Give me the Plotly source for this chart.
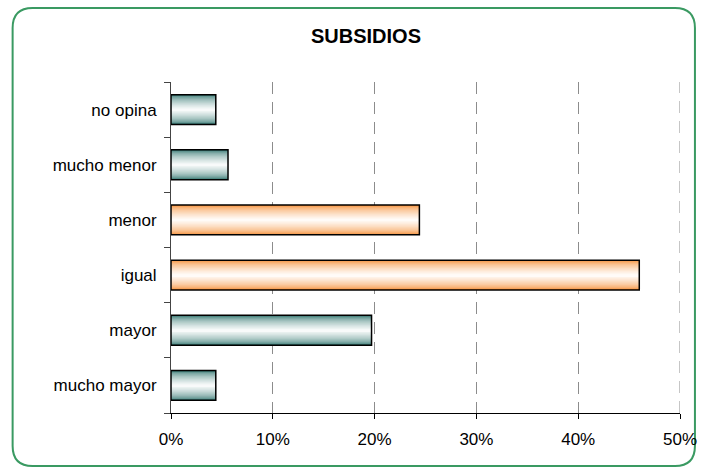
import plotly.graph_objects as go

categories = ["mucho mayor", "mayor", "igual", "menor", "mucho menor", "no opina"]
values = [4.4, 19.7, 46.0, 24.4, 5.6, 4.4]
groups = ["teal", "teal", "orange", "orange", "teal", "teal"]
x_ticks = [0, 10, 20, 30, 40, 50]
x_tick_labels = ["0%", "10%", "20%", "30%", "40%", "50%"]
title_text = "SUBSIDIOS"

edge_colors = {"teal": (45, 115, 108), "orange": (245, 138, 45)}

W, H = 709, 472
L, R, T, B = 171, 27, 82, 59
pw, ph = W - L - R, H - T - B

def lerp(c, t):
    return "rgb(%d,%d,%d)" % tuple(round(a + (255 - a) * t) for a in c)

fig = go.Figure()
bar_w = 0.54
N = 16
for i in range(N):
    t = i / N
    frac = 1 - t
    cols = [lerp(edge_colors[g], min(1, (t ** 0.55))) for g in groups]
    fig.add_trace(go.Bar(
        y=categories, x=values, orientation="h",
        width=bar_w * frac, marker=dict(color=cols, line=dict(width=0)),
        hoverinfo="skip", showlegend=False,
    ))
fig.add_trace(go.Bar(
    y=categories, x=values, orientation="h", width=bar_w,
    marker=dict(color="rgba(0,0,0,0)", line=dict(color="black", width=1.5)),
    showlegend=False,
))

def P(x, y):
    a, b = (x - L) / pw, (H - B - y) / ph
    return f"{a:.5f},{b:.5f}"

x0, y0, x1, y1, r = 12, 8, 697, 466, 20
path = f"M {P(x0 + r, y0)} L {P(x1 - r, y0)} "
path += f"Q {P(x1, y0)} {P(x1, y0 + r)} L {P(x1, y1 - r)} "
path += f"Q {P(x1, y1)} {P(x1 - r, y1)} L {P(x0 + r, y1)} "
path += f"Q {P(x0, y1)} {P(x0, y1 - r)} L {P(x0, y0 + r)} "
path += f"Q {P(x0, y0)} {P(x0 + r, y0)} Z"
fig.add_shape(type="path", xref="paper", yref="paper", path=path,
              line=dict(color="#3a9a62", width=2), layer="below")

# gridline at the right edge (last tick)
fig.add_shape(type="line", xref="x", yref="paper", x0=x_ticks[-1], x1=x_ticks[-1],
              y0=0, y1=1, line=dict(color="#8c8c8c", width=1, dash="12px,8px"),
              layer="below")

fig.update_layout(
    width=W, height=H,
    margin=dict(l=L, r=R, t=T, b=B),
    paper_bgcolor="white", plot_bgcolor="white",
    barmode="overlay", bargap=0.46,
    font=dict(family="Liberation Sans, Arial, sans-serif", size=17, color="black"),
    title=dict(text=f"<b>{title_text}</b>", x=366 / W, xanchor="center",
               y=1 - 36 / H, yanchor="middle", font=dict(size=20)),
)
fig.update_xaxes(
    range=[0, 50], tickvals=x_ticks, ticktext=x_tick_labels,
    showgrid=True, gridcolor="#8c8c8c", griddash="12px,8px", gridwidth=1,
    showline=True, linecolor="black", linewidth=1,
    ticks="outside", ticklen=5, tickcolor="black", zeroline=False,
    ticklabelstandoff=6,
)
fig.update_yaxes(
    categoryorder="array", categoryarray=categories,
    tickson="boundaries", ticks="outside", ticklen=6, tickcolor="#444",
    showline=True, linecolor="#444", linewidth=1, showgrid=False,
    ticklabelstandoff=10,
)
fig.write_html("out.html", config={"displayModeBar": False},
               post_script="document.body.style.margin='0';document.body.style.overflow='hidden';")
